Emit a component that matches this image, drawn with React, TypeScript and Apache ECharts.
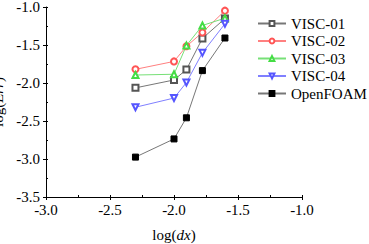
import React, { useEffect, useRef } from "react";
import * as echarts from "echarts";

const logDx = [-2.301, -2.0, -1.903, -1.778, -1.602];
const visc01 = [-2.064, -1.96, -1.824, -1.413, -1.152];
const visc02 = [-1.82, -1.716, -1.517, -1.335, -1.048];
const visc03 = [-1.895, -1.885, -1.508, -1.243, -1.147];
const visc04 = [-2.319, -2.198, -1.994, -1.603, -1.221];
const openFoam = [-2.975, -2.736, -2.458, -1.837, -1.408];
const seriesNames = ["VISC-01", "VISC-02", "VISC-03", "VISC-04", "OpenFOAM"];

const FONT = "'Liberation Serif', 'Times New Roman', serif";

export default function App() {
  const ref = useRef<HTMLDivElement>(null);
  useEffect(() => {
    if (!ref.current) return;
    const chart = echarts.init(ref.current, undefined, { renderer: "svg" });
    const mk = (
      name: string,
      vals: number[],
      color: string,
      lineColor: string,
      symbol: string,
      rotate = 0
    ) => ({
      name,
      type: "line",
      data: logDx.map((x, i) => [x, vals[i]]),
      symbol,
      symbolSize: 6,
      symbolRotate: rotate,
      showAllSymbol: true,
      lineStyle: { color: lineColor, width: 1 },
      itemStyle: { color, borderColor: color, borderWidth: 1 },
      z: 3,
    });
    const axisCommon = {
      type: "value",
      axisLine: { show: true, lineStyle: { color: "#000", width: 1 } },
      axisTick: { show: true, length: 3, lineStyle: { color: "#000" } },
      splitLine: { show: false },
      axisLabel: {
        color: "#000",
        fontFamily: FONT,
        fontSize: 15,
        formatter: (v: number) => v.toFixed(1),
      },
    };
    const legendText = { fontFamily: FONT, fontSize: 15, color: "#000" };
    chart.setOption({
      animation: false,
      backgroundColor: "#fff",
      textStyle: { fontFamily: FONT },
      grid: {
        left: 46,
        right: 67,
        top: 7,
        bottom: 47,
        containLabel: false,
        outerBoundsMode: "none",
      },
      legend: {
        orient: "vertical",
        left: 257,
        top: 16,
        itemWidth: 28,
        itemHeight: 6,
        itemGap: 2.5,
        padding: 0,
        data: seriesNames.map((n) => ({ name: n, textStyle: legendText })),
        textStyle: legendText,
      },
      xAxis: [
        {
          ...axisCommon,
          min: -3,
          max: -1,
          interval: 0.5,
          name: "log({i|dx})",
          nameLocation: "middle",
          nameGap: 30,
          nameTextStyle: {
            fontFamily: FONT,
            fontSize: 15,
            color: "#000",
            rich: { i: { fontFamily: FONT, fontSize: 15, fontStyle: "italic", color: "#000" } },
          },
          axisLabel: { ...axisCommon.axisLabel, margin: 5 },
        },
        {
          type: "value",
          min: -3,
          max: -1,
          interval: 0.25,
          position: "bottom",
          axisLine: { show: false },
          axisTick: { show: true, inside: true, length: 2, lineStyle: { color: "#000" } },
          axisLabel: { show: false },
          splitLine: { show: false },
        },
      ],
      yAxis: [
        {
          ...axisCommon,
          min: -3.5,
          max: -1,
          interval: 0.5,
          name: "log({i|Err})",
          nameLocation: "middle",
          nameGap: 29,
          nameRotate: 90,
          nameTextStyle: {
            fontFamily: FONT,
            fontSize: 15,
            color: "#000",
            rich: { i: { fontFamily: FONT, fontSize: 15, fontStyle: "italic", color: "#000" } },
          },
          axisLabel: { ...axisCommon.axisLabel, margin: 6 },
        },
        {
          type: "value",
          min: -3.5,
          max: -1,
          interval: 0.25,
          position: "left",
          axisLine: { show: false },
          axisTick: { show: true, inside: true, length: 2, lineStyle: { color: "#000" } },
          axisLabel: { show: false },
          splitLine: { show: false },
        },
      ],
      series: [
        mk(seriesNames[0], visc01, "#555555", "#777777", "emptyRect"),
        mk(seriesNames[1], visc02, "#ff5555", "#ff8080", "emptyCircle"),
        mk(seriesNames[2], visc03, "#44dd44", "#77e077", "emptyTriangle"),
        mk(seriesNames[3], visc04, "#5555ff", "#8080ff", "emptyTriangle", 180),
        mk(seriesNames[4], openFoam, "#000000", "#777777", "rect"),
      ],
    });
    return () => chart.dispose();
  }, []);
  return <div ref={ref} style={{ width: 369, height: 244, position: "absolute", left: 0, top: 0 }} />;
}
